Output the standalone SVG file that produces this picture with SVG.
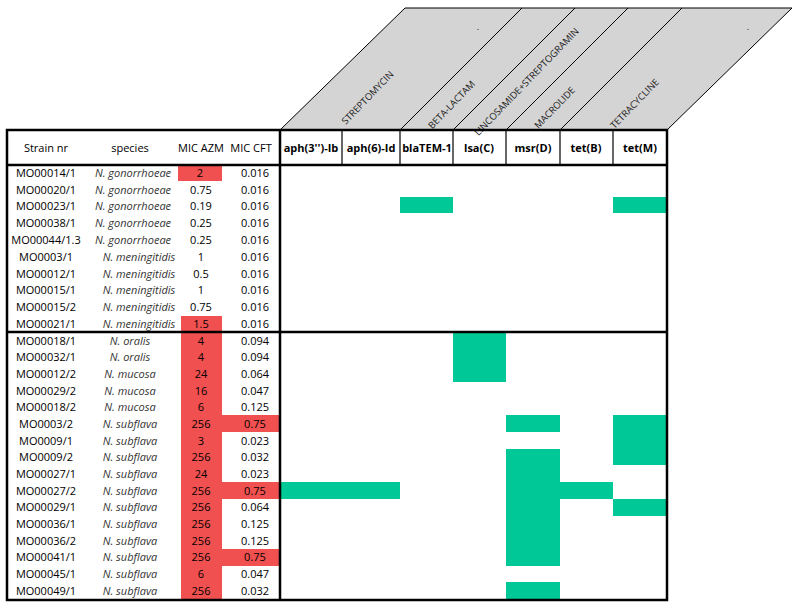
<svg xmlns="http://www.w3.org/2000/svg" width="797" height="607" viewBox="0 0 797 607">
<style>
text{font-family:"Open Sans","Liberation Sans",sans-serif;font-size:11px;fill:#000;text-anchor:middle}
.sp{font-style:italic;fill:#333}
.hb{font-weight:bold}
.cl{font-size:9.5px;fill:#222}
.r{fill:#f0504f}
.g{fill:#00c896}
.ln{stroke:#000;stroke-width:2.5;fill:none}
.th{stroke:#000;stroke-width:1.2}
</style>
<rect width="797" height="607" fill="#fff"/>
<g id="header-band">
<polygon points="280,130 667,130 792,8 405,8" fill="#d4d4d4" stroke="#000" stroke-width="1"/>
<g stroke="#000" stroke-width="1"><line x1="400" y1="130" x2="522" y2="8"/><line x1="453" y1="130" x2="575" y2="8"/><line x1="506" y1="130" x2="628" y2="8"/><line x1="560" y1="130" x2="682" y2="8"/></g>
<text class="cl" transform="translate(370,100) rotate(-46)">STREPTOMYCIN</text>
<text class="cl" transform="translate(454,107) rotate(-46)">BETA-LACTAM</text>
<text class="cl" transform="translate(529,84) rotate(-46)">LINCOSAMIDE+STREPTOGRAMIN</text>
<text class="cl" transform="translate(557,110) rotate(-46)">MACROLIDE</text>
<text class="cl" transform="translate(637,106) rotate(-46)">TETRACYCLINE</text>
<text class="cl" x="478" y="30">.</text><text class="cl" x="748" y="30">.</text>
</g>
<g id="fills">
<rect class="r" x="178" y="165" width="44" height="16"/>
<rect class="r" x="181" y="316" width="41" height="16"/>
<rect class="r" x="181" y="332" width="41" height="268"/>
<rect class="r" x="222" y="415" width="58" height="17"/>
<rect class="r" x="222" y="482" width="58" height="17"/>
<rect class="r" x="222" y="549" width="58" height="17"/>
<rect class="g" x="400" y="197" width="53" height="16"/>
<rect class="g" x="613" y="197" width="54" height="16"/>
<rect class="g" x="453" y="332" width="53" height="50"/>
<rect class="g" x="506" y="415" width="54" height="17"/>
<rect class="g" x="506" y="449" width="54" height="117"/>
<rect class="g" x="506" y="582" width="54" height="18"/>
<rect class="g" x="613" y="415" width="54" height="50"/>
<rect class="g" x="613" y="499" width="54" height="17"/>
<rect class="g" x="280" y="482" width="120" height="17"/>
<rect class="g" x="560" y="482" width="53" height="17"/>
</g>
<g id="grid">
<rect class="ln" x="7" y="130" width="660" height="470"/>
<line class="ln" x1="7" y1="165" x2="667" y2="165"/>
<line class="ln" x1="7" y1="332" x2="667" y2="332"/>
<line class="ln" x1="280" y1="130" x2="280" y2="600"/>
<g class="th"><line x1="342" y1="130" x2="342" y2="165"/><line x1="400" y1="130" x2="400" y2="165"/><line x1="453" y1="130" x2="453" y2="165"/><line x1="506" y1="130" x2="506" y2="165"/><line x1="560" y1="130" x2="560" y2="165"/><line x1="613" y1="130" x2="613" y2="165"/></g>
</g>
<g id="header-text">
<text x="46" y="152">Strain nr</text><text x="130" y="152">species</text><text x="201" y="152">MIC AZM</text><text x="251" y="152">MIC CFT</text>
<text class="hb" x="311" y="152">aph(3'')-Ib</text><text class="hb" x="371" y="152">aph(6)-Id</text><text class="hb" x="427" y="152">blaTEM-1</text><text class="hb" x="479" y="152">lsa(C)</text><text class="hb" x="533" y="152">msr(D)</text><text class="hb" x="586" y="152">tet(B)</text><text class="hb" x="640" y="152">tet(M)</text>
</g>
<g id="rows-upper">
<text x="46" y="177">MO00014/1</text><text class="sp" x="133" y="177">N. gonorrhoeae</text><text x="200" y="177">2</text><text x="255" y="177">0.016</text>
<text x="46" y="194">MO00020/1</text><text class="sp" x="133" y="194">N. gonorrhoeae</text><text x="201" y="194">0.75</text><text x="255" y="194">0.016</text>
<text x="46" y="210">MO00023/1</text><text class="sp" x="133" y="210">N. gonorrhoeae</text><text x="201" y="210">0.19</text><text x="255" y="210">0.016</text>
<text x="46" y="227">MO00038/1</text><text class="sp" x="133" y="227">N. gonorrhoeae</text><text x="201" y="227">0.25</text><text x="255" y="227">0.016</text>
<text x="46" y="244">MO00044/1.3</text><text class="sp" x="133" y="244">N. gonorrhoeae</text><text x="201" y="244">0.25</text><text x="255" y="244">0.016</text>
<text x="46" y="261">MO0003/1</text><text class="sp" x="139" y="261">N. meningitidis</text><text x="201" y="261">1</text><text x="255" y="261">0.016</text>
<text x="46" y="278">MO00012/1</text><text class="sp" x="139" y="278">N. meningitidis</text><text x="201" y="278">0.5</text><text x="255" y="278">0.016</text>
<text x="46" y="294">MO00015/1</text><text class="sp" x="139" y="294">N. meningitidis</text><text x="201" y="294">1</text><text x="255" y="294">0.016</text>
<text x="46" y="311">MO00015/2</text><text class="sp" x="139" y="311">N. meningitidis</text><text x="201" y="311">0.75</text><text x="255" y="311">0.016</text>
<text x="46" y="328">MO00021/1</text><text class="sp" x="139" y="328">N. meningitidis</text><text x="201" y="328">1.5</text><text x="255" y="328">0.016</text>
</g>
<g id="rows-lower">
<text x="46" y="345">MO00018/1</text><text class="sp" x="130" y="345">N. oralis</text><text x="201" y="345">4</text><text x="255" y="345">0.094</text>
<text x="46" y="361">MO00032/1</text><text class="sp" x="130" y="361">N. oralis</text><text x="201" y="361">4</text><text x="255" y="361">0.094</text>
<text x="46" y="378">MO00012/2</text><text class="sp" x="130" y="378">N. mucosa</text><text x="201" y="378">24</text><text x="255" y="378">0.064</text>
<text x="46" y="395">MO00029/2</text><text class="sp" x="130" y="395">N. mucosa</text><text x="201" y="395">16</text><text x="255" y="395">0.047</text>
<text x="46" y="411">MO00018/2</text><text class="sp" x="130" y="411">N. mucosa</text><text x="201" y="411">6</text><text x="255" y="411">0.125</text>
<text x="46" y="428">MO0003/2</text><text class="sp" x="130" y="428">N. subflava</text><text x="201" y="428">256</text><text x="255" y="428">0.75</text>
<text x="46" y="445">MO0009/1</text><text class="sp" x="130" y="445">N. subflava</text><text x="201" y="445">3</text><text x="255" y="445">0.023</text>
<text x="46" y="461">MO0009/2</text><text class="sp" x="130" y="461">N. subflava</text><text x="201" y="461">256</text><text x="255" y="461">0.032</text>
<text x="46" y="478">MO00027/1</text><text class="sp" x="130" y="478">N. subflava</text><text x="201" y="478">24</text><text x="255" y="478">0.023</text>
<text x="46" y="495">MO00027/2</text><text class="sp" x="130" y="495">N. subflava</text><text x="201" y="495">256</text><text x="255" y="495">0.75</text>
<text x="46" y="511">MO00029/1</text><text class="sp" x="130" y="511">N. subflava</text><text x="201" y="511">256</text><text x="255" y="511">0.064</text>
<text x="46" y="528">MO00036/1</text><text class="sp" x="130" y="528">N. subflava</text><text x="201" y="528">256</text><text x="255" y="528">0.125</text>
<text x="46" y="545">MO00036/2</text><text class="sp" x="130" y="545">N. subflava</text><text x="201" y="545">256</text><text x="255" y="545">0.125</text>
<text x="46" y="561">MO00041/1</text><text class="sp" x="130" y="561">N. subflava</text><text x="201" y="561">256</text><text x="255" y="561">0.75</text>
<text x="46" y="578">MO00045/1</text><text class="sp" x="130" y="578">N. subflava</text><text x="201" y="578">6</text><text x="255" y="578">0.047</text>
<text x="46" y="595">MO00049/1</text><text class="sp" x="130" y="595">N. subflava</text><text x="201" y="595">256</text><text x="255" y="595">0.032</text>
</g>
</svg>
